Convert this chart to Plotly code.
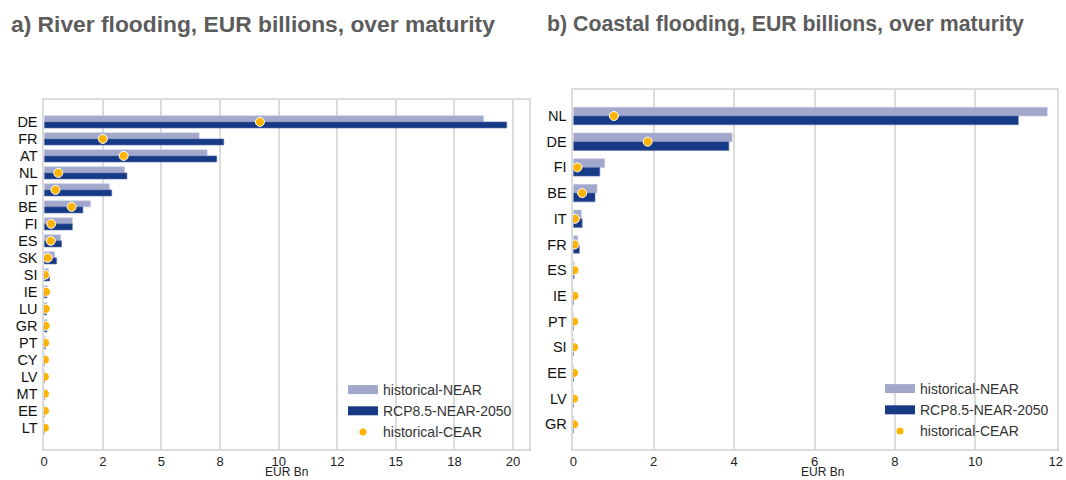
import plotly.graph_objects as go

# ---------------- data ----------------
river_countries = ["DE", "FR", "AT", "NL", "IT", "BE", "FI", "ES", "SK", "SI",
                   "IE", "LU", "GR", "PT", "CY", "LV", "MT", "EE", "LT"]
river_hist_near = [18.74, 6.61, 6.95, 3.43, 2.78, 1.98, 1.20, 0.70, 0.44, 0.18,
                   0.13, 0.12, 0.12, 0.05, 0.01, 0.01, 0.01, 0.01, 0.01]
river_rcp_near = [19.73, 7.66, 7.36, 3.53, 2.88, 1.65, 1.20, 0.74, 0.53, 0.23,
                  0.12, 0.10, 0.12, 0.06, 0.01, 0.01, 0.01, 0.01, 0.01]
river_hist_cear = [9.20, 2.50, 3.39, 0.60, 0.48, 1.17, 0.30, 0.28, 0.15, 0.03,
                   0.08, 0.07, 0.06, 0.04, 0.03, 0.03, 0.03, 0.03, 0.03]

coastal_countries = ["NL", "DE", "FI", "BE", "IT", "FR", "ES", "IE", "PT", "SI",
                     "EE", "LV", "GR"]
coastal_hist_near = [11.79, 3.95, 0.78, 0.59, 0.20, 0.11, 0.02, 0.005, 0.005,
                     0.005, 0.005, 0.005, 0.005]
coastal_rcp_near = [11.07, 3.87, 0.66, 0.54, 0.22, 0.15, 0.02, 0.005, 0.005,
                    0.005, 0.005, 0.005, 0.005]
coastal_hist_cear = [1.01, 1.85, 0.10, 0.22, 0.04, 0.03, 0.03, 0.03, 0.02,
                     0.02, 0.02, 0.02, 0.02]

river_tickvals = [0, 2.5, 5, 7.5, 10, 12.5, 15, 17.5, 20]
river_ticktext = ["0", "2", "5", "8", "10", "12", "15", "18", "20"]
coastal_tickvals = [0, 2, 4, 6, 8, 10, 12]

series_names = ["historical-NEAR", "RCP8.5-NEAR-2050", "historical-CEAR"]

# ---------------- style ----------------
LIGHT = "#a2a8cc"
DARK = "#173a87"
DOT = "#ffb400"
GRID = "#dcdcdc"
FONT = "Liberation Sans, Arial, sans-serif"
W, H = 1066, 480

fig = go.Figure()


def add_panel(cats, near, rcp, cear, xa, ya, legend, bw):
    fig.add_trace(go.Bar(y=cats, x=near, orientation="h", width=bw, offset=-bw,
                         marker=dict(color=LIGHT, line=dict(color="#c3c7df", width=0.6)),
                         xaxis=xa, yaxis=ya, showlegend=False, name=series_names[0]))
    fig.add_trace(go.Bar(y=cats, x=rcp, orientation="h", width=bw, offset=0,
                         marker=dict(color=DARK, line=dict(color="#5a70a8", width=0.6)),
                         xaxis=xa, yaxis=ya, showlegend=False, name=series_names[1]))
    fig.add_trace(go.Scatter(y=cats, x=cear, mode="markers",
                             marker=dict(color=DOT, size=9, line=dict(color="white", width=1)),
                             xaxis=xa, yaxis=ya, showlegend=False, name=series_names[2]))
    # legend-only entries (long rectangular swatches)
    fig.add_trace(go.Scatter(x=[None], y=[None], mode="lines", name=series_names[0],
                             line=dict(color=LIGHT, width=9), xaxis=xa, yaxis=ya, legend=legend))
    fig.add_trace(go.Scatter(x=[None], y=[None], mode="lines", name=series_names[1],
                             line=dict(color=DARK, width=9), xaxis=xa, yaxis=ya, legend=legend))
    fig.add_trace(go.Scatter(x=[None], y=[None], mode="markers", name=series_names[2],
                             marker=dict(color=DOT, size=7), xaxis=xa, yaxis=ya, legend=legend))


add_panel(river_countries, river_hist_near, river_rcp_near, river_hist_cear, "x", "y", "legend", 0.36)
add_panel(coastal_countries, coastal_hist_near, coastal_rcp_near, coastal_hist_cear, "x2", "y2", "legend2", 0.34)

xaxis_common = dict(showline=True, linecolor=GRID, linewidth=1.5, mirror=True,
                    showgrid=True, gridcolor=GRID, gridwidth=1.5, zeroline=False,
                    automargin=False, ticks="", ticklabelstandoff=0,
                    tickfont=dict(family=FONT, size=13, color="#222"))
yaxis_common = dict(showgrid=False, showline=True, linecolor=GRID, linewidth=1.5, mirror=True,
                    automargin=False, ticks="", type="category", ticklabelstandoff=2,
                    tickfont=dict(family=FONT, size=14.5, color="#111"))

L1, R1 = 44.2, 529
L2, R2 = 573.3, 1056.5


def px_x(p):
    return p / W


def px_y(p):
    return 1 - p / H


fig.update_layout(
    width=W, height=H,
    margin=dict(l=0, r=0, t=0, b=0),
    plot_bgcolor="white", paper_bgcolor="white",
    barmode="overlay",
    font=dict(family=FONT, color="#222"),
    xaxis=dict(domain=[px_x(L1), px_x(R1)], range=[0, 20.68],
               tickvals=river_tickvals, ticktext=river_ticktext, anchor="y", **xaxis_common),
    yaxis=dict(domain=[px_y(449), px_y(100)], range=[19.25, -1.29],
               tickvals=river_countries, anchor="x", **yaxis_common),
    xaxis2=dict(domain=[px_x(L2), px_x(R2)], range=[0, 12.02],
                tickvals=coastal_tickvals, anchor="y2", **xaxis_common),
    yaxis2=dict(domain=[px_y(449), px_y(90.3)], range=[12.96, -1.0],
                tickvals=coastal_countries, anchor="x2", **yaxis_common),
    legend=dict(x=px_x(343), y=px_y(374), xanchor="left", yanchor="top",
                bgcolor="rgba(0,0,0,0)", font=dict(family=FONT, size=14, color="#333"),
                itemclick=False),
    legend2=dict(x=px_x(880), y=px_y(373), xanchor="left", yanchor="top",
                 bgcolor="rgba(0,0,0,0)", font=dict(family=FONT, size=14, color="#333"),
                 itemclick=False),
    annotations=[
        dict(text="<b>a) River flooding, EUR billions, over maturity</b>", x=px_x(9), y=px_y(24.5),
             xref="paper", yref="paper", xanchor="left", yanchor="middle", showarrow=False,
             font=dict(family=FONT, size=22.8, color="#5c5c5c")),
        dict(text="<b>b) Coastal flooding, EUR billions, over maturity</b>", x=px_x(545), y=px_y(24.5),
             xref="paper", yref="paper", xanchor="left", yanchor="middle", showarrow=False,
             font=dict(family=FONT, size=21.3, color="#5c5c5c")),
        dict(text="EUR Bn", x=px_x((L1 + R1) / 2), y=0, xref="paper", yref="paper",
             xanchor="center", yanchor="bottom", showarrow=False, borderpad=0,
             font=dict(family=FONT, size=12, color="#222")),
        dict(text="EUR Bn", x=px_x(822), y=0, xref="paper", yref="paper",
             xanchor="center", yanchor="bottom", showarrow=False, borderpad=0,
             font=dict(family=FONT, size=12, color="#222")),
    ],
)

fig.write_html("out.html", config={"displayModeBar": False},
               post_script="document.body.style.margin='0px';")
